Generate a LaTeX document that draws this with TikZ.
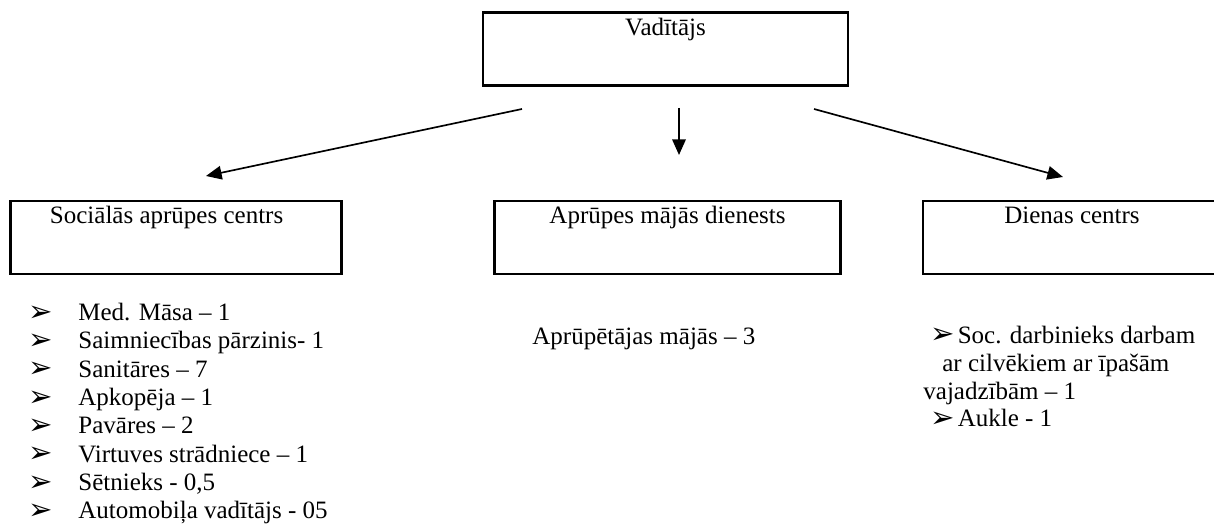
\documentclass[tikz,border=0pt]{standalone}
\usepackage{fontspec}
\setmainfont{Liberation Serif}
\newfontfamily\symfont{DejaVu Sans}
\usepackage{tikz}
\usetikzlibrary{arrows.meta,positioning}

\newcommand{\blt}{\makebox[24pt][l]{\raisebox{-0.3pt}{\symfont\fontsize{14}{14}\selectfont ➢}}}
\newcommand{\rblt}{\makebox[13pt][l]{\raisebox{-0.3pt}{\symfont\fontsize{14}{14}\selectfont ➢}}}

\begin{document}
\begin{tikzpicture}[x=0.48pt,y=-0.48pt,font=\fontsize{12}{13.6}\selectfont]
	\useasboundingbox (0,0) rectangle (1214,527);
	\begin{scope}[every node/.style={rectangle,draw,line width=1.1pt,inner xsep=2pt,inner ysep=2pt,text height=9pt,text depth=22pt,minimum height=34.6pt}]
		\node[minimum width=175pt] (vad) at (665.5,49) {Vadītājs};
		\node[minimum width=159pt] (sac) at (176,237.5) {Sociālās aprūpes centrs\hspace*{9pt}};
		\node[minimum width=166pt] (amd) at (667.5,237.5) {Aprūpes mājās dienests};
		\node[minimum width=143pt] (dc) at (1072,237.5) {Dienas centrs};
	\end{scope}
	% arrow ends below the top box
	\coordinate (vl) at (522,109);
	\coordinate (vm) at (679,108);
	\coordinate (vr) at (814,109);
	\coordinate (sl) at (206,176);
	\coordinate (sm) at (679,155);
	\coordinate (sr) at (1063,177);
	\begin{scope}[line width=0.8pt]
		\draw[-{Triangle[length=7.5pt,width=6.5pt]}] (vl) -- (sl);
		\draw[-{Triangle[length=7.5pt,width=6.5pt]}] (vm) -- (sm);
		\draw[-{Triangle[length=7.5pt,width=6.5pt]}] (vr) -- (sr);
	\end{scope}
	% lists (base anchor sits on the last line)
	\begin{scope}[every node/.style={inner sep=0pt,align=left,anchor=base west}]
		\node (sacl) at (28,519) {\blt Med. Māsa – 1\\
			\blt Saimniecības pārzinis- 1\\
			\blt Sanitāres – 7\\
			\blt Apkopēja – 1\\
			\blt Pavāres – 2\\
			\blt Virtuves strādniece – 1\\
			\blt Sētnieks - 0,5\\
			\blt Automobiļa vadītājs - 05};
		\node (amdl) at (532,345) {Aprūpētājas mājās – 3};
		\node[font=\fontsize{12}{13.4}\selectfont] (dcl) at (923,427) {\hspace*{3.5pt}\rblt Soc. darbinieks darbam\\
			\hspace*{9.1pt}ar cilvēkiem ar īpašām\\
			vajadzībām – 1\\
			\hspace*{3.5pt}\rblt Aukle - 1};
	\end{scope}
\end{tikzpicture}
\end{document}
